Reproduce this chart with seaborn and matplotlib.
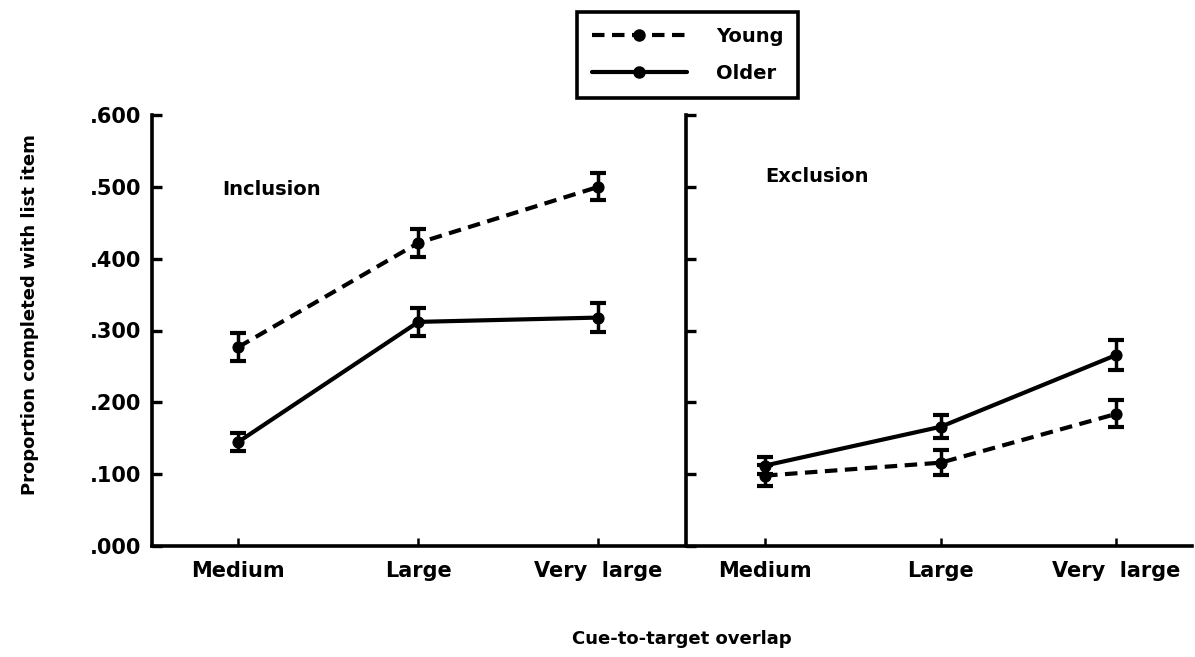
import numpy as np
import pandas as pd
import matplotlib
matplotlib.use("Agg")
import matplotlib.pyplot as plt
from matplotlib.lines import Line2D
import seaborn as sns

# ---- data ----
categories = ["Medium", "Large", "Very  large"]
groups = ["Young", "Older"]
inclusion_young = [0.277, 0.422, 0.500]
inclusion_older = [0.145, 0.312, 0.318]
inclusion_young_err = [0.020, 0.019, 0.019]
inclusion_older_err = [0.013, 0.020, 0.020]
exclusion_young = [0.098, 0.116, 0.184]
exclusion_older = [0.112, 0.166, 0.266]
exclusion_young_err = [0.015, 0.017, 0.019]
exclusion_older_err = [0.012, 0.016, 0.021]
ytick_values = [0.0, 0.1, 0.2, 0.3, 0.4, 0.5, 0.6]
ytick_labels = [".000", ".100", ".200", ".300", ".400", ".500", ".600"]
panel_titles = ["Inclusion", "Exclusion"]


def make_df(young, older, yerr, oerr):
    rows = []
    for i, c in enumerate(categories):
        rows.append(dict(pos=i, cat=c, group="Young", value=young[i], err=yerr[i]))
        rows.append(dict(pos=i, cat=c, group="Older", value=older[i], err=oerr[i]))
    return pd.DataFrame(rows)


df_inc = make_df(inclusion_young, inclusion_older, inclusion_young_err, inclusion_older_err)
df_exc = make_df(exclusion_young, exclusion_older, exclusion_young_err, exclusion_older_err)

sns.set_theme(style="white")
plt.rcParams["font.family"] = ["DejaVu Sans"]
plt.rcParams["font.weight"] = "bold"
plt.rcParams["text.color"] = "black"

W, H = 1195, 657
fig = plt.figure(figsize=(W / 100, H / 100), dpi=100)
fig.patch.set_facecolor("white")

ax1 = fig.add_axes([152 / W, 1 - 546 / H, (683 - 152) / W, (546 - 115) / H])
ax2 = fig.add_axes([686 / W, 1 - 546 / H, (1192 - 686) / W, (546 - 115) / H])

DASH = (3.0, 1.8)
LW = 3.0
MS = 8

for ax, df, xlim, title, tpos in [
    (ax1, df_inc, (-0.48, 2.47), panel_titles[0], (-0.09, 0.496)),
    (ax2, df_exc, (-0.45, 2.43), panel_titles[1], (0.0, 0.515)),
]:
    sns.lineplot(
        data=df, x="pos", y="value", style="group", style_order=groups,
        dashes={"Young": DASH, "Older": ""},
        markers={"Young": "o", "Older": "o"},
        color="black", linewidth=LW, markersize=MS, markeredgecolor="black",
        legend=False, ax=ax, errorbar=None,
    )
    for g in groups:
        sub = df[df["group"] == g]
        ax.errorbar(sub["pos"], sub["value"], yerr=sub["err"], fmt="none",
                    ecolor="black", elinewidth=2.5, capsize=6, capthick=3)
    ax.set_xlim(*xlim)
    ax.set_ylim(0, 0.6)
    ax.set_xticks(range(len(categories)))
    ax.set_xticklabels(categories, fontsize=15, fontweight="bold", color="black")
    ax.set_yticks(ytick_values)
    ax.set_xlabel("")
    ax.set_ylabel("")
    for s in ["top", "right"]:
        ax.spines[s].set_visible(False)
    for s in ["left", "bottom"]:
        ax.spines[s].set_linewidth(2.6)
        ax.spines[s].set_color("black")
    ax.tick_params(axis="y", direction="in", length=7, width=2.4, pad=8,
                   left=True, colors="black")
    ax.tick_params(axis="x", direction="in", length=6, width=1.8, pad=11,
                   bottom=True, colors="black")
    ax.text(tpos[0], tpos[1], title, fontsize=14, fontweight="bold",
            ha="left", va="center", color="black")
    ax.set_facecolor("white")

ax1.set_yticklabels(ytick_labels, fontsize=15, fontweight="bold", color="black")
ax2.set_yticklabels([])

fig.text(30 / W, 1 - 315 / H, "Proportion completed with list item",
         rotation=90, ha="center", va="center", fontsize=13, fontweight="bold",
         color="black")
fig.text(682 / W, 1 - 639 / H, "Cue-to-target overlap",
         ha="center", va="center", fontsize=13, fontweight="bold", color="black")

handles = [
    Line2D([], [], color="black", lw=LW, dashes=DASH, marker="o", markersize=MS),
    Line2D([], [], color="black", lw=LW, marker="o", markersize=MS),
]
leg = fig.legend(handles, groups, loc="upper left",
                 bbox_to_anchor=(577 / W, 1 - 12 / H), borderaxespad=0,
                 frameon=True, fancybox=False, edgecolor="black", framealpha=1,
                 handlelength=4.9, handletextpad=1.5, borderpad=0.75,
                 labelspacing=0.95, labelcolor="black",
                 prop=dict(size=14, weight="bold"))
leg.get_frame().set_linewidth(2.6)
leg.get_frame().set_edgecolor("black")

fig.savefig("out.png", dpi=100, facecolor="white")
